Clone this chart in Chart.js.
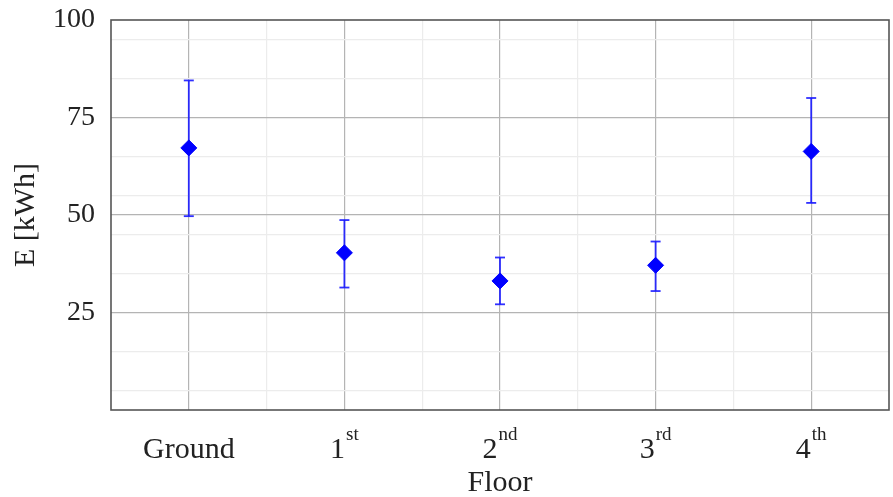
<!DOCTYPE html>
<html lang="en">
<head>
    <meta charset="UTF-8" />
    <title>E per floor</title>
    <style>
        body {
            margin: 0;
            background: #ffffff;
        }
        #chart {
            display: block;
        }
    </style>
</head>
<body>
    <canvas id="chart" width="893" height="497"></canvas>
    <script src="https://cdn.jsdelivr.net/npm/chart.js@4.4.0/dist/chart.umd.min.js"></script>
    <script>
        // data
        const floors = ["Ground", "1", "2", "3", "4"];
        const floorSup = ["", "st", "nd", "rd", "th"];
        const means = [67.2, 40.3, 33.1, 37.1, 66.3];
        const upper = [84.5, 48.7, 39.1, 43.2, 80.0];
        const lower = [49.7, 31.4, 27.1, 30.5, 53.1];
        const yTicks = [5, 15, 25, 35, 45, 50, 55, 65, 75, 85, 95, 100];
        const yLabels = [25, 50, 75, 100];

        const FONT = "'Liberation Serif', 'DejaVu Serif', serif";
        const BLUE = "#0000ff";
        const ERR = "rgba(25,25,255,0.9)";

        // error bar lines: lo -> hi, then a gap
        let errLine = [];
        let caps = [];
        floors.forEach((f, i) => {
            errLine.push({ x: i, y: lower[i] }, { x: i, y: upper[i] }, { x: i, y: null });
            caps.push({ x: i, y: lower[i] }, { x: i, y: upper[i] });
        });
        let meanPts = means.map((v, i) => ({ x: i, y: v }));

        // frame around the plot area
        const framePlugin = {
            id: "frame",
            afterDatasetsDraw(chart) {
                const a = chart.chartArea;
                const ctx = chart.ctx;
                ctx.save();
                ctx.strokeStyle = "#555555";
                ctx.lineWidth = 1.6;
                ctx.strokeRect(a.left, a.top, a.right - a.left, a.bottom - a.top);
                ctx.restore();
            },
        };

        // x labels with superscripts (1st, 2nd ...)
        const supLabels = {
            id: "supLabels",
            afterDraw(chart) {
                const xs = chart.scales.x;
                const ctx = chart.ctx;
                ctx.save();
                ctx.fillStyle = "#222222";
                ctx.textBaseline = "alphabetic";
                ctx.textAlign = "left";
                floors.forEach((f, i) => {
                    const x = xs.getPixelForValue(i);
                    ctx.font = "30px " + FONT;
                    const wb = ctx.measureText(f).width;
                    ctx.font = "19px " + FONT;
                    const ws = floorSup[i] ? ctx.measureText(floorSup[i]).width + 1 : 0;
                    const x0 = x - (wb + ws) / 2;
                    ctx.font = "30px " + FONT;
                    ctx.fillText(f, x0, xs.top + 48);
                    if (floorSup[i]) {
                        ctx.font = "19px " + FONT;
                        ctx.fillText(floorSup[i], x0 + wb + 1, xs.top + 30);
                    }
                });
                ctx.restore();
            },
        };

        function noPad(s) {
            s.paddingLeft = 0;
            s.paddingRight = 0;
            s.paddingTop = 0;
            s.paddingBottom = 0;
        }

        new Chart(document.getElementById("chart"), {
            type: "scatter",
            data: {
                datasets: [
                    {
                        data: errLine,
                        showLine: true,
                        spanGaps: false,
                        borderColor: ERR,
                        borderWidth: 1.8,
                        pointRadius: 0,
                        order: 3,
                    },
                    {
                        data: caps,
                        pointStyle: "line",
                        pointRadius: 5,
                        borderColor: ERR,
                        pointBorderWidth: 1.8,
                        order: 2,
                    },
                    {
                        data: meanPts,
                        pointStyle: "rectRot",
                        pointRadius: 8,
                        backgroundColor: BLUE,
                        borderColor: BLUE,
                        pointBorderWidth: 1,
                        order: 1,
                    },
                ],
            },
            options: {
                responsive: false,
                animation: false,
                layout: { autoPadding: false, padding: { left: 0, right: 4, top: 20, bottom: 0 } },
                plugins: {
                    legend: { display: false },
                    tooltip: { enabled: false },
                },
                scales: {
                    x: {
                        type: "linear",
                        min: -0.5,
                        max: 4.5,
                        afterBuildTicks: (s) => {
                            let t = [];
                            for (let v = -0.5; v <= 4.5; v += 0.5) t.push({ value: v });
                            s.ticks = t;
                        },
                        afterFit: (s) => { s.height = 87; noPad(s); },
                        border: { display: false },
                        grid: {
                            drawTicks: false,
                            lineWidth: 1.2,
                            color: (c) => {
                                const v = c.tick ? c.tick.value : 0;
                                if (v <= -0.5 || v >= 4.5) return "rgba(0,0,0,0)";
                                return Number.isInteger(v) ? "#b4b4b4" : "#ececec";
                            },
                        },
                        ticks: {
                            color: "rgba(0,0,0,0)",
                            font: { family: FONT, size: 28 },
                            callback: (v) => (Number.isInteger(v) ? floors[v] + floorSup[v] : ""),
                            autoSkip: false,
                            maxRotation: 0,
                            padding: 18,
                        },
                        title: {
                            display: true,
                            text: "Floor",
                            color: "#222222",
                            font: { family: FONT, size: 30, lineHeight: 1 },
                            padding: { top: 0, bottom: -1 },
                        },
                    },
                    y: {
                        min: 0,
                        max: 100,
                        afterBuildTicks: (s) => {
                            s.ticks = yTicks.map((v) => ({ value: v }));
                        },
                        afterFit: (s) => { s.width = 111; noPad(s); },
                        border: { display: false },
                        grid: {
                            drawTicks: false,
                            lineWidth: 1.2,
                            color: (c) => {
                                const v = c.tick ? c.tick.value : 0;
                                if (v >= 100) return "rgba(0,0,0,0)";
                                return yLabels.includes(v) ? "#b4b4b4" : "#ececec";
                            },
                        },
                        ticks: {
                            color: "#222222",
                            font: { family: FONT, size: 28 },
                            callback: (v) => (yLabels.includes(v) ? String(v) : ""),
                            autoSkip: false,
                            padding: 16,
                        },
                        title: {
                            display: true,
                            text: "E [kWh]",
                            color: "#222222",
                            font: { family: FONT, size: 30, lineHeight: 1 },
                            padding: { top: 11, bottom: 0 },
                        },
                    },
                },
            },
            plugins: [framePlugin, supLabels],
        });
    </script>
</body>
</html>
